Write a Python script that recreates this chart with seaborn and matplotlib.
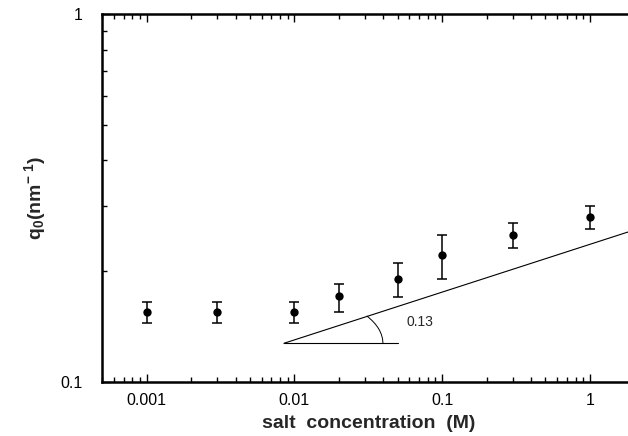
import matplotlib
matplotlib.use("Agg")
from matplotlib import pyplot as plt
from matplotlib.patches import Arc
from matplotlib.ticker import LogLocator, NullFormatter, FixedLocator, FixedFormatter
from matplotlib.transforms import ScaledTranslation
import seaborn as sns
import pandas as pd

# salt concentration (M) and q0 (nm^-1) with error bar limits
conc = [0.001, 0.003, 0.01, 0.02, 0.05, 0.1, 0.3, 1.0]
q0 = [0.155, 0.155, 0.155, 0.171, 0.191, 0.221, 0.251, 0.281]
q0_lo = [0.145, 0.145, 0.145, 0.155, 0.170, 0.190, 0.231, 0.260]
q0_hi = [0.165, 0.165, 0.165, 0.185, 0.210, 0.251, 0.271, 0.301]

# slope guide line (power 0.13)
fit_x = [0.0085, 2.0]
fit_y = [0.1274, 0.259]
base_x = [0.0085, 0.05]
base_y = [0.1274, 0.1274]
slope_label = "0.13"

sns.set_style("ticks")
plt.rcParams['font.family'] = ['Liberation Sans', 'DejaVu Sans']
plt.rcParams['mathtext.fontset'] = 'custom'
plt.rcParams['mathtext.rm'] = 'Liberation Sans:bold'
plt.rcParams['mathtext.bf'] = 'Liberation Sans:bold'
plt.rcParams['mathtext.default'] = 'bf'

fig = plt.figure(figsize=(6.28, 4.36), dpi=100)
ax = fig.add_axes([102 / 628, 54 / 436, 532.5 / 628, 368 / 436])

df = pd.DataFrame({"conc": conc, "q0": q0})
err = [[q - lo for q, lo in zip(q0, q0_lo)], [hi - q for q, hi in zip(q0, q0_hi)]]
ax.errorbar(conc, q0, yerr=err, fmt='none', ecolor='black', elinewidth=1.1,
            capsize=3.5, capthick=1.1)
sns.scatterplot(data=df, x="conc", y="q0", ax=ax, color='black', s=36,
                edgecolor='black', linewidth=0, zorder=3)

sns.lineplot(x=fit_x, y=fit_y, ax=ax, color='black', linewidth=0.8)
sns.lineplot(x=base_x, y=base_y, ax=ax, color='black', linewidth=0.8)

ax.set_xscale("log")
ax.set_yscale("log")
ax.set_xlim(0.0005, 2.0)
ax.set_ylim(0.1, 1.0)

# angle arc anchored at the start of the guide line (size in inches)
arc_tr = fig.dpi_scale_trans + ScaledTranslation(fit_x[0], fit_y[0], ax.transData)
ax.add_patch(Arc((0, 0), 1.98, 1.0, theta1=0, theta2=18.3, transform=arc_tr,
                 color='black', linewidth=0.7))
ax.text(0.057, 0.1458, slope_label, fontsize=10, va='center', ha='left')

ax.xaxis.set_major_locator(FixedLocator([0.001, 0.01, 0.1, 1]))
ax.xaxis.set_major_formatter(FixedFormatter(["0.001", "0.01", "0.1", "1"]))
ax.xaxis.set_minor_locator(LogLocator(base=10, subs=range(2, 10), numticks=20))
ax.xaxis.set_minor_formatter(NullFormatter())
ax.yaxis.set_major_locator(FixedLocator([0.1, 1]))
ax.yaxis.set_major_formatter(FixedFormatter(["0.1", "1"]))
ax.yaxis.set_minor_locator(LogLocator(base=10, subs=range(2, 10), numticks=20))
ax.yaxis.set_minor_formatter(NullFormatter())

ax.tick_params(which='both', direction='in', top=True, right=False, width=1,
               labelsize=11.5, colors='black')
ax.tick_params(which='major', length=6)
ax.tick_params(axis='x', which='major', pad=8)
ax.tick_params(axis='y', which='major', pad=14)
ax.tick_params(which='minor', length=3.5)

for s in ['left', 'bottom', 'top']:
    ax.spines[s].set_linewidth(1.8)
    ax.spines[s].set_color('black')
ax.spines['right'].set_visible(False)

ax.set_xlabel('salt  concentration  (M)', fontsize=14, fontweight='bold', labelpad=5)
ax.set_ylabel(r'q$_0$(nm$^{-\ 1}$)', fontsize=14, fontweight='bold', labelpad=9)

fig.savefig("out.png", dpi=100)
